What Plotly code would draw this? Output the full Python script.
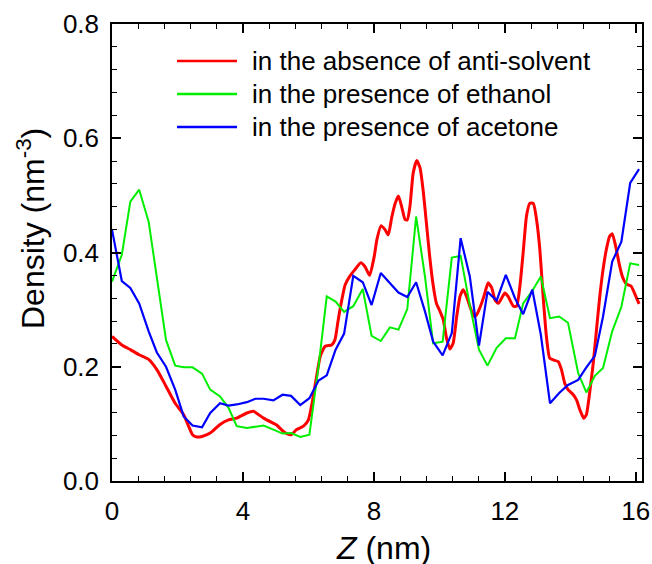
import plotly.graph_objects as go

# series (Z in nm, density in nm^-3)
z_red = [0.00, 0.30, 0.56, 0.83, 1.12, 1.37, 1.65, 1.93, 2.19, 2.46, 2.59, 2.75, 3.00, 3.30,
         3.56, 3.81, 4.12, 4.32, 4.63, 4.93, 5.03, 5.21, 5.34, 5.47, 5.64, 5.85, 6.00, 6.13,
         6.25, 6.36, 6.51, 6.71, 6.81, 6.91, 7.02, 7.12, 7.27, 7.42, 7.60, 7.73, 7.87, 8.01,
         8.09, 8.22, 8.34, 8.44, 8.54, 8.65, 8.75, 8.85, 8.95, 9.02, 9.10, 9.20, 9.31, 9.41,
         9.51, 9.61, 9.71, 9.81, 9.91, 10.02, 10.12, 10.22, 10.32, 10.42, 10.53, 10.63, 10.73,
         10.83, 10.93, 11.06, 11.14, 11.29, 11.39, 11.49, 11.60, 11.70, 11.80, 11.90, 12.00,
         12.10, 12.26, 12.36, 12.46, 12.56, 12.66, 12.76, 12.87, 12.97, 13.07, 13.17, 13.27,
         13.37, 13.48, 13.63, 13.73, 13.83, 13.93, 14.09, 14.19, 14.29, 14.41, 14.49, 14.59,
         14.70, 14.80, 14.90, 15.00, 15.10, 15.20, 15.28, 15.39, 15.49, 15.59, 15.71, 15.86,
         15.96, 16.10]
d_red = [0.253, 0.238, 0.230, 0.221, 0.213, 0.195, 0.166, 0.136, 0.116, 0.081, 0.077, 0.078,
         0.084, 0.099, 0.107, 0.110, 0.119, 0.122, 0.110, 0.101, 0.098, 0.088, 0.083, 0.081,
         0.090, 0.096, 0.107, 0.142, 0.183, 0.218, 0.236, 0.238, 0.247, 0.282, 0.317, 0.343,
         0.359, 0.370, 0.382, 0.375, 0.360, 0.393, 0.422, 0.447, 0.440, 0.431, 0.460, 0.486,
         0.499, 0.480, 0.458, 0.457, 0.480, 0.539, 0.561, 0.548, 0.506, 0.448, 0.390, 0.343,
         0.311, 0.297, 0.282, 0.250, 0.231, 0.241, 0.288, 0.323, 0.335, 0.323, 0.306, 0.288,
         0.291, 0.311, 0.329, 0.347, 0.338, 0.317, 0.311, 0.320, 0.329, 0.323, 0.306, 0.306,
         0.341, 0.400, 0.463, 0.486, 0.486, 0.457, 0.405, 0.323, 0.253, 0.215, 0.212, 0.209,
         0.195, 0.171, 0.160, 0.151, 0.142, 0.125, 0.110, 0.116, 0.154, 0.206, 0.265, 0.323,
         0.370, 0.405, 0.428, 0.433, 0.410, 0.381, 0.358, 0.345, 0.341, 0.329, 0.310]

z_grid = [0.00, 0.30, 0.56, 0.83, 1.12, 1.37, 1.65, 1.93, 2.19, 2.46, 2.75, 3.00, 3.30, 3.56,
          3.81, 4.12, 4.38, 4.63, 4.93, 5.21, 5.47, 5.75, 6.03, 6.31, 6.56, 6.83, 7.09, 7.37,
          7.66, 7.93, 8.21, 8.49, 8.75, 9.02, 9.29, 9.56, 9.81, 10.10, 10.38, 10.65, 10.93,
          11.21, 11.47, 11.75, 12.03, 12.31, 12.56, 12.84, 13.10, 13.38, 13.66, 13.93, 14.24,
          14.49, 14.75, 15.00, 15.28, 15.56, 15.83, 16.10]
d_green = [0.349, 0.396, 0.489, 0.510, 0.454, 0.358, 0.247, 0.202, 0.199, 0.199, 0.188, 0.160,
           0.148, 0.128, 0.096, 0.093, 0.095, 0.097, 0.090, 0.083, 0.084, 0.077, 0.081, 0.201,
           0.323, 0.314, 0.296, 0.306, 0.336, 0.254, 0.245, 0.269, 0.265, 0.301, 0.463, 0.358,
           0.241, 0.244, 0.391, 0.394, 0.308, 0.230, 0.202, 0.233, 0.250, 0.250, 0.311, 0.333,
           0.358, 0.285, 0.288, 0.277, 0.189, 0.155, 0.184, 0.198, 0.262, 0.305, 0.381, 0.378]
d_blue = [0.440, 0.350, 0.338, 0.311, 0.262, 0.225, 0.200, 0.160, 0.113, 0.097, 0.094, 0.119,
          0.136, 0.132, 0.134, 0.138, 0.144, 0.144, 0.141, 0.151, 0.149, 0.133, 0.145, 0.176,
          0.185, 0.230, 0.258, 0.359, 0.348, 0.308, 0.364, 0.346, 0.330, 0.322, 0.348, 0.297,
          0.244, 0.220, 0.259, 0.425, 0.358, 0.237, 0.331, 0.316, 0.361, 0.320, 0.292, 0.335,
          0.256, 0.136, 0.154, 0.168, 0.177, 0.199, 0.219, 0.288, 0.384, 0.419, 0.522, 0.546]

names = ["in the absence of anti-solvent", "in the presence of ethanol", "in the presence of acetone"]
colors = ["#ff0000", "#00ee00", "#0000ff"]

font = "Arial, Liberation Sans, sans-serif"

fig = go.Figure()
fig.add_trace(go.Scatter(x=z_red, y=d_red, mode="lines", name=names[0],
                         line=dict(color=colors[0], width=3, shape="spline", smoothing=0.5)))
fig.add_trace(go.Scatter(x=z_grid, y=d_green, mode="lines", name=names[1],
                         line=dict(color=colors[1], width=2)))
fig.add_trace(go.Scatter(x=z_grid, y=d_blue, mode="lines", name=names[2],
                         line=dict(color=colors[2], width=2.2)))

# hand-drawn legend (long key lines like the original)
for i, (nm, c) in enumerate(zip(names, colors)):
    yy = 61 + i * 33
    yp = 1 - (yy - 24) / 457
    fig.add_shape(type="line", xref="paper", yref="paper",
                  x0=(177 - 112) / 530, x1=(237 - 112) / 530, y0=yp, y1=yp,
                  line=dict(color=c, width=2.5))
    fig.add_annotation(xref="paper", yref="paper", x=(250 - 112) / 530, y=yp,
                       xanchor="left", yanchor="middle", showarrow=False, text=nm,
                       font=dict(family=font, size=26, color="black"))

# axis titles placed by hand (the original sits a bit off-centre)
fig.add_annotation(xref="paper", yref="paper", x=(31 - 112) / 530, y=1 - (229 - 24) / 457,
                   xanchor="center", yanchor="middle", textangle=-90, showarrow=False,
                   text="Density (nm<sup>-3</sup>)", font=dict(family=font, size=32, color="black"))
fig.add_annotation(xref="paper", yref="paper", x=(383 - 112) / 530, y=1 - (548 - 24) / 457,
                   xanchor="center", yanchor="middle", showarrow=False,
                   text="<i>Z</i> (nm)", font=dict(family=font, size=32, color="black"))

axis_common = dict(showline=True, linecolor="black", linewidth=1.5, mirror="ticks",
                   ticks="inside", ticklen=9, tickwidth=1.5, tickcolor="black",
                   showgrid=False, zeroline=False, automargin=False,
                   tickfont=dict(family=font, size=26, color="black"))

fig.update_xaxes(range=[0, 16.19], dtick=4, tick0=0, ticklabelstandoff=6,
                 minor=dict(dtick=0.8, tick0=0, ticks="inside", ticklen=5, tickwidth=1.2,
                            tickcolor="black"),
                 **axis_common)
fig.update_yaxes(range=[0, 0.8], dtick=0.2, tick0=0, tickformat=".1f", ticklabelstandoff=6,
                 minor=dict(dtick=0.04, tick0=0, ticks="inside", ticklen=5, tickwidth=1.2,
                            tickcolor="black"),
                 **axis_common)

fig.update_layout(width=652, height=564, showlegend=False,
                  margin=dict(l=112, r=10, t=24, b=83),
                  plot_bgcolor="white", paper_bgcolor="white")

# the page's default body margin would push the figure off by 8 px
fig.write_html("out.html", config={"displayModeBar": False},
               post_script="document.body.style.margin='0';")
